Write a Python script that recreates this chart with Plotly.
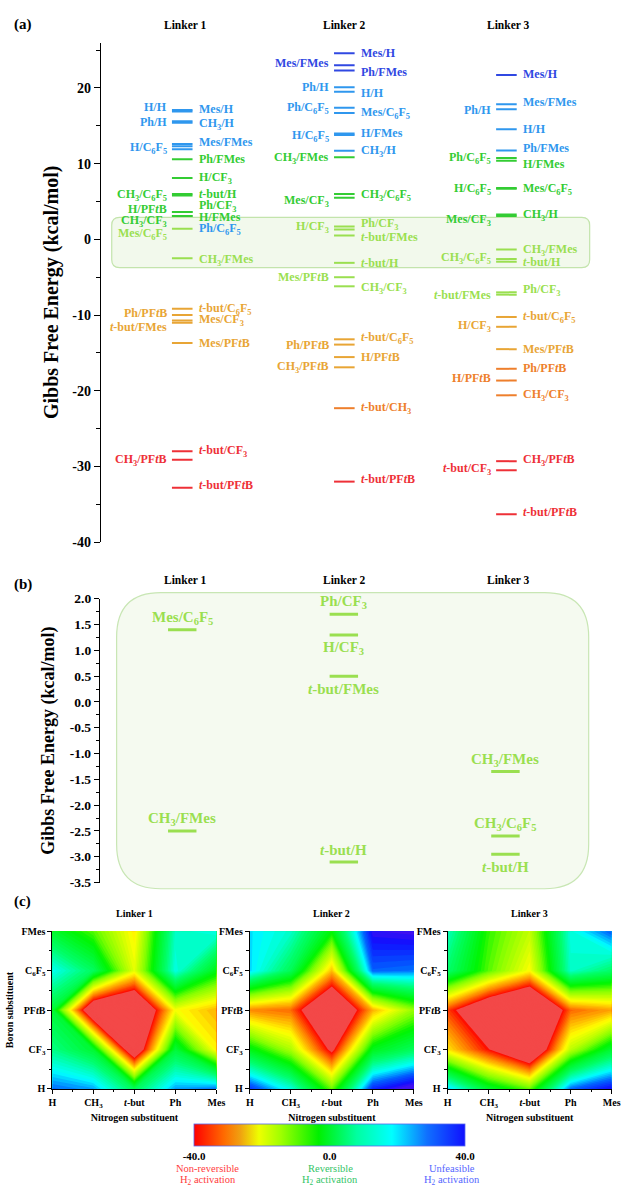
import plotly.graph_objects as go

W, H = 630, 1192
SERIF = "Liberation Serif"

# ---------------- data ----------------
LINKERS = ["Linker 1", "Linker 2", "Linker 3"]
N_KEYS = ["H", "CH3", "t-but", "Ph", "Mes"]          # nitrogen substituent
B_KEYS = ["H", "CF3", "PFtB", "C6F5", "FMes"]         # boron substituent

L1_NAMES = ["H/H", "Mes/H", "Ph/H", "CH3/H", "H/C6F5", "Mes/FMes", "Ph/C6F5", "Ph/FMes",
            "H/CF3", "CH3/C6F5", "t-but/H", "H/PFtB", "Ph/CF3", "H/FMes", "CH3/CF3",
            "Mes/C6F5", "CH3/FMes", "t-but/C6F5", "Ph/PFtB", "Mes/CF3", "t-but/FMes",
            "Mes/PFtB", "t-but/CF3", "CH3/PFtB", "t-but/PFtB"]
L1_VALUES = [17.1, 16.9, 15.6, 15.4, 12.6, 12.3, 11.9, 10.6,
             8.1, 6.0, 5.8, 3.6, 3.6, 3.1, 3.1,
             1.4, -2.5, -9.15, -10.0, -10.7, -11.0,
             -13.7, -28.0, -29.1, -32.8]

L2_NAMES = ["Mes/H", "Mes/FMes", "Ph/FMes", "Ph/H", "H/H", "Ph/C6F5", "Mes/C6F5", "H/C6F5",
            "H/FMes", "CH3/H", "CH3/FMes", "Mes/CF3", "CH3/C6F5", "Ph/CF3", "H/CF3",
            "t-but/FMes", "t-but/H", "Mes/PFtB", "CH3/CF3", "t-but/C6F5", "Ph/PFtB",
            "H/PFtB", "CH3/PFtB", "t-but/CH3", "t-but/PFtB"]
L2_VALUES = [24.6, 23.0, 22.3, 20.1, 19.5, 17.4, 16.7, 14.0,
             13.8, 11.7, 10.85, 6.0, 5.5, 1.7, 1.3,
             0.5, -3.1, -5.0, -6.2, -13.2, -13.9,
             -15.55, -16.9, -22.3, -32.0]

L3_NAMES = ["Mes/H", "Mes/FMes", "Ph/H", "H/H", "Ph/FMes", "Ph/C6F5", "H/FMes", "H/C6F5",
            "Mes/C6F5", "Mes/CF3", "CH3/H", "CH3/FMes", "CH3/C6F5", "t-but/H", "Ph/CF3",
            "t-but/FMes", "t-but/C6F5", "H/CF3", "Mes/PFtB", "Ph/PFtB", "H/PFtB",
            "CH3/CF3", "CH3/PFtB", "t-but/CF3", "t-but/PFtB"]
L3_VALUES = [21.7, 17.85, 17.2, 14.55, 11.75, 10.75, 10.4, 6.8,
             6.7, 3.3, 3.1, -1.35, -2.6, -2.95, -7.0,
             -7.3, -10.25, -11.55, -14.5, -17.1, -18.65,
             -20.6, -29.3, -30.5, -36.3]

# label placement (layout, not data): side of the level and vertical nudge (kcal/mol)
L1_SIDES = ["L", "R", "L", "R", "L", "R", "R", "R", "R", "L", "R", "L", "R", "R", "L",
            "L", "R", "R", "L", "R", "L", "R", "R", "L", "R"]
L1_NUDGE = [0.4, 0.3, -0.1, -0.2, -0.55, 0.6, -10.55, 0, 0, -0.2, 0.25, 0.45, 0.8, -0.1, -0.7,
            -0.65, -0.25, 0, 0.3, 0, -0.55, 0, 0, 0, 0.4]
L2_SIDES = ["R", "L", "R", "L", "R", "L", "R", "L", "R", "R", "L", "L", "R", "R", "L",
            "R", "R", "L", "R", "R", "L", "R", "L", "R", "R"]
L2_NUDGE = [0, 0.3, -0.2, 0, -0.1, 0, 0, -0.3, 0.2, 0, -0.15, -0.9, 0.3, 0.35, 0.3,
            -0.2, 0, 0, -0.2, 0.15, 0, 0, 0, 0, 0.3]
L3_SIDES = ["R", "R", "L", "R", "R", "L", "R", "L", "R", "L", "R", "R", "L", "R", "R",
            "L", "R", "L", "R", "R", "L", "R", "R", "L", "R"]
L3_NUDGE = [0.2, 0.25, -0.1, 0, 0.3, 0, -0.5, -0.15, 0, -0.8, 0.15, -0.1, 0.2, 0, 0.25,
            -0.1, 0, 0.1, 0, 0.1, 0.35, 0, 0.2, 0.2, 0.3]

# name used in the picture for a grid cell, when it differs
L1_ALIAS = {}
L2_ALIAS = {"t-but/CF3": "t-but/CH3"}
L3_ALIAS = {}

# panel (b): which side of the level the label sits
B_LABEL_POS = {
    (1, "Mes/C6F5"): "above", (1, "CH3/FMes"): "above",
    (2, "Ph/CF3"): "above", (2, "H/CF3"): "below", (2, "t-but/FMes"): "below", (2, "t-but/H"): "above",
    (3, "CH3/FMes"): "above", (3, "CH3/C6F5"): "above", (3, "t-but/H"): "below",
}
B_RANGE = [-3.5, 2.0]

A_TICKS = [-40, -30, -20, -10, 0, 10, 20]
B_TICKS = [-3.5, -3.0, -2.5, -2.0, -1.5, -1.0, -0.5, 0.0, 0.5, 1.0, 1.5, 2.0]
CB_TICKS = [-40, 0, 40]
CATEGORIES = ["Non-reversible", "Reversible", "Unfeasible"]

# ---------------- styles ----------------
C_DBLUE = "#3048E2"
C_LBLUE = "#2F97EE"
C_GREEN = "#33CC33"
C_LGREEN = "#9ADF50"
C_GOLD = "#E8A535"
C_ORANGE = "#EE7F2C"
C_RED = "#EE3037"


def level_color(v):
    if v >= 21:
        return C_DBLUE
    if v >= 11.5:
        return C_LBLUE
    if v >= 2.5:
        return C_GREEN
    if v >= -8:
        return C_LGREEN
    if v > -17:
        return C_GOLD
    if v > -25:
        return C_ORANGE
    return C_RED


def rich(s):
    s = s.replace("t-but", "<i>t</i>-but").replace("PFtB", "PF<i>t</i>B")
    s = s.replace("C6F5", "C<sub>6</sub>F<sub>5</sub>").replace("CH3", "CH<sub>3</sub>")
    s = s.replace("CF3", "CF<sub>3</sub>")
    return s


def px(x):
    return x / W


def py(y):
    return 1 - y / H


def rounded_path(x0, y0, x1, y1, r):
    pts = [("M", [(x0 + r, y0)]), ("L", [(x1 - r, y0)]), ("Q", [(x1, y0), (x1, y0 + r)]),
           ("L", [(x1, y1 - r)]), ("Q", [(x1, y1), (x1 - r, y1)]), ("L", [(x0 + r, y1)]),
           ("Q", [(x0, y1), (x0, y1 - r)]), ("L", [(x0, y0 + r)]), ("Q", [(x0, y0), (x0 + r, y0)])]
    out = []
    for cmd, ps in pts:
        out.append(cmd + " " + " ".join(f"{px(a):.5f},{py(b):.5f}" for a, b in ps))
    return " ".join(out) + " Z"


LINKER_DATA = [
    (L1_NAMES, L1_VALUES, L1_SIDES, L1_NUDGE, L1_ALIAS),
    (L2_NAMES, L2_VALUES, L2_SIDES, L2_NUDGE, L2_ALIAS),
    (L3_NAMES, L3_VALUES, L3_SIDES, L3_NUDGE, L3_ALIAS),
]

fig = go.Figure()
annotations = []
shapes = []

# ---------------- panel (a) ----------------
HALF_A = 0.0635
for i, (names, values, sides, nudges, _) in enumerate(LINKER_DATA, start=1):
    groups = {}
    for v in values:
        groups.setdefault(level_color(v), []).append(v)
    for col, vs in groups.items():
        xs, ys = [], []
        for v in vs:
            xs += [i - HALF_A, i + HALF_A, None]
            ys += [v, v, None]
        fig.add_trace(go.Scatter(x=xs, y=ys, mode="lines", line=dict(color=col, width=2),
                                 xaxis="x", yaxis="y", hoverinfo="skip", showlegend=False))
    for n, v, s, d in zip(names, values, sides, nudges):
        annotations.append(dict(
            x=i + HALF_A if s == "R" else i - HALF_A, y=v + d, xref="x", yref="y",
            xanchor="left" if s == "R" else "right", yanchor="middle",
            xshift=4 if s == "R" else -3, text=rich(n), showarrow=False,
            font=dict(family=SERIF, size=12, color=level_color(v), weight="bold")))

# ---------------- panel (b) ----------------
HALF_B = 0.088
for i, (names, values, _, _, _) in enumerate(LINKER_DATA, start=1):
    xs, ys = [], []
    for n, v in zip(names, values):
        if B_RANGE[0] <= v <= B_RANGE[1]:
            xs += [i - HALF_B, i + HALF_B, None]
            ys += [v, v, None]
            pos = B_LABEL_POS.get((i, n), "above")
            annotations.append(dict(
                x=i, y=v, xref="x2", yref="y2", xanchor="center", yanchor="middle",
                yshift=12 if pos == "above" else -13, text=rich(n), showarrow=False,
                font=dict(family=SERIF, size=15, color=C_LGREEN, weight="bold")))
    fig.add_trace(go.Scatter(x=xs, y=ys, mode="lines", line=dict(color=C_LGREEN, width=3),
                             xaxis="x2", yaxis="y2", hoverinfo="skip", showlegend=False))

# ---------------- panel (c) ----------------
HEAT_SCALE = [
    [0.0, "#F34848"], [0.236, "#F34848"], [0.2375, "#FF0000"], [0.30, "#FF8000"],
    [0.37, "#FFFF00"], [0.45, "#80FF00"], [0.50, "#00F500"], [0.59, "#00FF70"],
    [0.6625, "#00FFFF"], [0.7125, "#0068FF"], [0.7625, "#1010FF"], [0.785, "#4010F0"],
    [1.0, "#4010F0"],
]
BAR_SCALE = [
    [0.0, "#FF0000"], [0.11, "#FF6A00"], [0.17, "#F0A010"], [0.24, "#EEFF00"],
    [0.32, "#A0FF00"], [0.46, "#00F000"], [0.60, "#00FFA0"], [0.73, "#00FFFF"],
    [0.86, "#1070FF"], [1.0, "#1010FF"],
]
HEAT_X = [(49.4, 216.9), (251.0, 418.5), (453.0, 620.5)]
for i, (names, values, _, _, alias) in enumerate(LINKER_DATA, start=1):
    d = dict(zip(names, values))
    z = [[d[alias.get(f"{n}/{b}", f"{n}/{b}")] for n in N_KEYS] for b in B_KEYS]
    fig.add_trace(go.Contour(
        z=z, x=list(range(len(N_KEYS))), y=list(range(len(B_KEYS))),
        colorscale=HEAT_SCALE, zmin=-40, zmax=40, zauto=False, autocontour=False,
        contours=dict(start=-40, end=40, size=0.8, coloring="fill"),
        line=dict(width=0, smoothing=0), showscale=False, hoverinfo="skip",
        xaxis=f"x{i + 2}", yaxis=f"y{i + 2}"))

# colour bar (library colorbar, attached to an off-range marker trace)
fig.add_trace(go.Scatter(
    x=[-9, -9], y=[-9, -9], xaxis="x3", yaxis="y3", mode="markers", hoverinfo="skip",
    showlegend=False,
    marker=dict(color=CB_TICKS[::2], cmin=-40, cmax=40, colorscale=BAR_SCALE, size=1, opacity=0,
                showscale=True,
                colorbar=dict(orientation="h", x=px((197 + 468) / 2), xanchor="center",
                              y=py(1131), yanchor="top", len=271, lenmode="pixels",
                              thickness=22, xpad=0, ypad=0, outlinewidth=0.8,
                              outlinecolor="#5566EE", ticks="",
                              tickvals=CB_TICKS, ticktext=[f"{t:.1f}" for t in CB_TICKS],
                              tickfont=dict(family=SERIF, size=11, color="black", weight="bold")))))

# ---------------- layout ----------------
axis_font = dict(family=SERIF, color="black", weight="bold")
xr_a = [1 - (182 - 99) / 165.5, 3 + (620 - 513) / 165.5]
xr_b = [1 - (182 - 98) / 165.0, 3 + (620 - 512) / 165.0]

layout = dict(
    width=W, height=H, margin=dict(l=0, r=0, t=0, b=0),
    paper_bgcolor="white", plot_bgcolor="rgba(0,0,0,0)", showlegend=False,
    xaxis=dict(domain=[px(99), px(620)], range=xr_a, visible=False, anchor="y"),
    yaxis=dict(domain=[py(542), py(36)], range=[-40, 26], anchor="x", showline=True,
               linecolor="black", linewidth=1.3, ticks="outside", ticklen=6, tickwidth=1.3,
               tickcolor="black", tickmode="array", tickvals=A_TICKS,
               ticktext=[str(t) for t in A_TICKS],
               minor=dict(ticks="outside", dtick=5, tick0=0, ticklen=3.5, tickcolor="black",
                          tickwidth=1.2),
               showgrid=False, zeroline=False, tickfont=dict(size=14, **axis_font),
               title=dict(text="Gibbs Free Energy (kcal/mol)", font=dict(size=20, **axis_font),
                          standoff=8)),
    xaxis2=dict(domain=[px(98), px(620)], range=xr_b, visible=False, anchor="y2"),
    yaxis2=dict(domain=[py(886.7), py(599.3)], range=B_RANGE, anchor="x2", showline=True,
                linecolor="black", linewidth=1.3, ticks="outside", ticklen=5, tickwidth=1.3,
                tickcolor="black", tickmode="array", tickvals=B_TICKS,
                ticktext=[f"{t:.1f}" for t in B_TICKS],
                minor=dict(ticks="outside", dtick=0.25, tick0=0, ticklen=3, tickcolor="black",
                           tickwidth=1),
                showgrid=False, zeroline=False, tickfont=dict(size=13.5, **axis_font),
                title=dict(text="Gibbs Free Energy (kcal/mol)", font=dict(size=18, **axis_font),
                           standoff=10)),
)

for i, (x0, x1) in enumerate(HEAT_X, start=1):
    k = i + 2
    layout[f"xaxis{k}"] = dict(
        domain=[px(x0), px(x1)], range=[0, 4], anchor=f"y{k}", showline=True,
        linecolor="black", linewidth=1, ticks="outside", ticklen=4, tickcolor="black",
        tickmode="array", tickvals=list(range(len(N_KEYS))), ticktext=[rich(n) for n in N_KEYS],
        minor=dict(ticks="outside", tickvals=[0.5, 1.5, 2.5, 3.5], ticklen=2.5,
                   tickcolor="black"),
        showgrid=False, zeroline=False, tickfont=dict(size=10, **axis_font),
        title=dict(text="Nitrogen substituent", font=dict(size=10, **axis_font), standoff=4))
    layout[f"yaxis{k}"] = dict(
        domain=[py(1095.7), py(936)], range=[0, 4], anchor=f"x{k}", showline=True,
        linecolor="black", linewidth=1, ticks="outside", ticklen=4, tickcolor="black",
        tickmode="array", tickvals=list(range(len(B_KEYS))), ticktext=[rich(b) for b in B_KEYS],
        minor=dict(ticks="outside", tickvals=[0.5, 1.5, 2.5, 3.5], ticklen=2.5,
                   tickcolor="black"),
        showgrid=False, zeroline=False, tickfont=dict(size=10, **axis_font),
        title=dict(text="Boron substituent" if i == 1 else "",
                   font=dict(size=10, **axis_font), standoff=5))

# rounded "reversible" boxes
shapes.append(dict(type="path", xref="paper", yref="paper", path=rounded_path(110, 213, 598, 264, 8),
                   fillcolor="rgba(190,225,160,0.20)", line=dict(color="#C3E4AC", width=1.2),
                   layer="below"))
shapes.append(dict(type="path", xref="paper", yref="paper", path=rounded_path(115, 593, 597, 893, 45),
                   fillcolor="rgba(190,225,160,0.16)", line=dict(color="#C8E6B4", width=1.2),
                   layer="below"))

# panel letters and linker titles
title_font = dict(family=SERIF, color="black", weight="bold")
for txt, yy in [("(a)", 18), ("(b)", 585), ("(c)", 906)]:
    annotations.append(dict(x=px(8), y=py(yy), xref="paper", yref="paper", xanchor="left",
                            yanchor="middle", text=txt, showarrow=False,
                            font=dict(size=15, **title_font)))
for name, xx in zip(LINKERS, [185, 348, 515]):
    annotations.append(dict(x=px(xx), y=py(18), xref="paper", yref="paper", xanchor="center",
                            yanchor="middle", text=name, showarrow=False,
                            font=dict(size=11.5, **title_font)))
    annotations.append(dict(x=px(xx), y=py(580), xref="paper", yref="paper", xanchor="center",
                            yanchor="middle", text=name, showarrow=False,
                            font=dict(size=11.5, **title_font)))
for name, (x0, x1) in zip(LINKERS, HEAT_X):
    annotations.append(dict(x=px((x0 + x1) / 2), y=py(918), xref="paper", yref="paper",
                            xanchor="center", yanchor="middle", text=name, showarrow=False,
                            font=dict(size=10, **title_font)))

# category captions under the colour bar
for cat, xx, col in zip(CATEGORIES, [208, 333, 457], ["#FF3B3B", "#33C466", "#5566FF"]):
    annotations.append(dict(x=px(xx), y=py(1176), xref="paper", yref="paper", xanchor="center",
                            yanchor="middle", text=cat, showarrow=False,
                            font=dict(family=SERIF, size=10.5, color=col)))
    annotations.append(dict(x=px(xx), y=py(1188), xref="paper", yref="paper", xanchor="center",
                            yanchor="middle", text="H<sub>2</sub> activation", showarrow=False,
                            font=dict(family=SERIF, size=10.5, color=col)))

layout["annotations"] = annotations
layout["shapes"] = shapes
fig.update_layout(**layout)

fig.write_html("out.html", config={"displayModeBar": False},
               post_script="document.body.style.margin='0px';")
